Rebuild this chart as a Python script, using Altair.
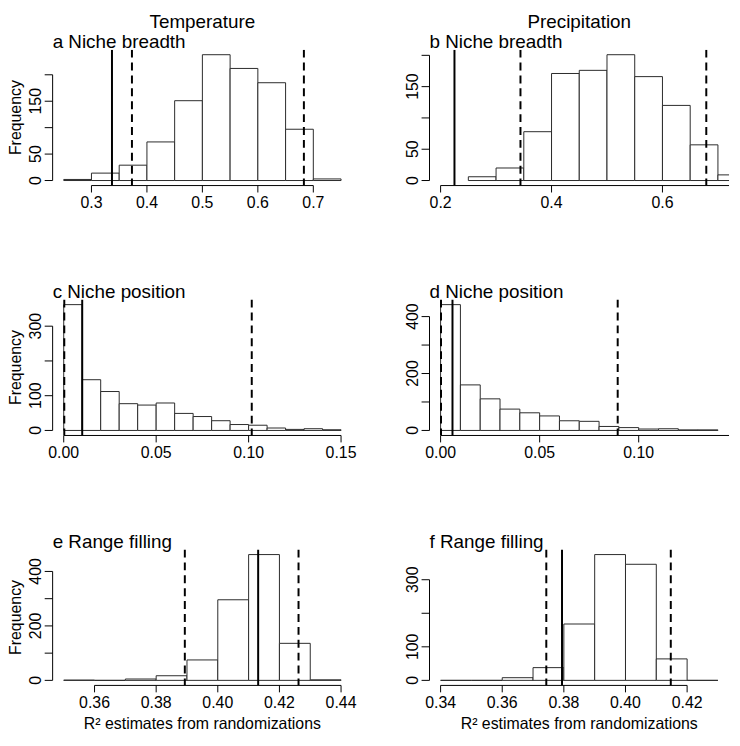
import altair as alt
import pandas as pd

FONT = "Liberation Sans"
W, H = 302, 137

# ---------------- data ----------------
col_titles = ["Temperature", "Precipitation"]
panel_labels = ["a Niche breadth", "b Niche breadth",
                "c Niche position", "d Niche position",
                "e Range filling", "f Range filling"]
x_title = "R\u00b2 estimates from randomizations"
y_title = "Frequency"

# histogram break points and counts
a_breaks = [0.25, 0.30, 0.35, 0.40, 0.45, 0.50, 0.55, 0.60, 0.65, 0.70, 0.75]
a_counts = [2, 14, 29, 73, 151, 238, 212, 185, 97, 3]
b_breaks = [0.25, 0.30, 0.35, 0.40, 0.45, 0.50, 0.55, 0.60, 0.65, 0.70, 0.75]
b_counts = [6, 20, 78, 171, 176, 201, 166, 120, 57, 9]
c_breaks = [0.00, 0.01, 0.02, 0.03, 0.04, 0.05, 0.06, 0.07, 0.08, 0.09, 0.10,
            0.11, 0.12, 0.13, 0.14, 0.15]
c_counts = [362, 146, 112, 77, 73, 79, 49, 40, 28, 17, 15, 7, 3, 5, 2]
d_breaks = [0.00, 0.01, 0.02, 0.03, 0.04, 0.05, 0.06, 0.07, 0.08, 0.09, 0.10,
            0.11, 0.12, 0.13, 0.14]
d_counts = [442, 160, 111, 75, 62, 51, 34, 32, 14, 10, 5, 6, 2, 2]
e_breaks = [0.35, 0.36, 0.37, 0.38, 0.39, 0.40, 0.41, 0.42, 0.43, 0.44]
e_counts = [1, 0, 5, 17, 75, 296, 462, 136, 2]
f_breaks = [0.34, 0.35, 0.36, 0.37, 0.38, 0.39, 0.40, 0.41, 0.42, 0.43]
f_counts = [0, 0, 8, 38, 168, 375, 346, 64, 0]

# observed value (solid line) and 95% interval (dashed lines)
obs_values = [0.337, 0.225, 0.010, 0.006, 0.4131, 0.3794]
ci_low = [0.373, 0.344, 0.0003, 0.0002, 0.3893, 0.3743]
ci_high = [0.683, 0.679, 0.1017, 0.0894, 0.4262, 0.4147]

# axis ticks and tick labels
x_ticks = [[0.3, 0.4, 0.5, 0.6, 0.7], [0.2, 0.4, 0.6],
           [0.0, 0.05, 0.10, 0.15], [0.0, 0.05, 0.10],
           [0.36, 0.38, 0.40, 0.42, 0.44], [0.34, 0.36, 0.38, 0.40, 0.42]]
x_tick_labels = [["0.3", "0.4", "0.5", "0.6", "0.7"], ["0.2", "0.4", "0.6"],
                 ["0.00", "0.05", "0.10", "0.15"], ["0.00", "0.05", "0.10"],
                 ["0.36", "0.38", "0.40", "0.42", "0.44"],
                 ["0.34", "0.36", "0.38", "0.40", "0.42"]]
x_domains = [[0.23, 0.77], [0.18, 0.72], [-0.006, 0.156], [-0.0056, 0.1456],
             [0.3464, 0.4436], [0.3364, 0.4336]]
x_axis_lines = [[0.3, 0.7], [0.2, 0.72], [0.0, 0.15], [0.0, 0.1456],
                [0.36, 0.44], [0.34, 0.42]]
y_ticks = [[0, 50, 100, 150, 200], [0, 50, 100, 150, 200],
           [0, 100, 200, 300], [0, 100, 200, 300, 400],
           [0, 100, 200, 300, 400], [0, 100, 200, 300]]
y_tick_labels = [["0", "50", "", "150", ""], ["0", "50", "", "150", ""],
                 ["0", "100", "", "300"], ["0", "", "200", "", "400"],
                 ["0", "", "200", "", "400"], ["0", "100", "", "300"]]

breaks_all = [a_breaks, b_breaks, c_breaks, d_breaks, e_breaks, f_breaks]
counts_all = [a_counts, b_counts, c_counts, d_counts, e_counts, f_counts]

TXT = dict(font=FONT, color="black")


def make_panel(i):
    brk = breaks_all[i]
    cnt = counts_all[i]
    df = pd.DataFrame({"x0": brk[:-1], "x1": brk[1:], "n": cnt})
    df["base"] = 0
    ymax = max(cnt)
    xs = alt.Scale(domain=x_domains[i], nice=False, zero=False)
    ys = alt.Scale(domain=[-0.04 * ymax, 1.04 * ymax], nice=False, zero=False)

    bars = alt.Chart(df).mark_rect(fill="white", stroke="#2b2b2b", strokeWidth=1,
                                   clip=True).encode(
        x=alt.X("x0:Q", scale=xs, axis=None),
        x2="x1:Q",
        y=alt.Y("n:Q", scale=ys, axis=None),
        y2="base:Q",
    )

    # x axis: line, ticks, labels
    xl = pd.DataFrame({"a": [x_axis_lines[i][0]], "b": [x_axis_lines[i][1]]})
    xline = alt.Chart(xl).mark_rule(color="black", strokeWidth=1).encode(
        x=alt.X("a:Q", scale=xs, axis=None), x2="b:Q", y=alt.value(H))
    xt = pd.DataFrame({"v": x_ticks[i], "lab": x_tick_labels[i]})
    xtick = alt.Chart(xt).mark_rule(color="black", strokeWidth=1).encode(
        x=alt.X("v:Q", scale=xs, axis=None), y=alt.value(H), y2=alt.value(H + 7))
    xlab = alt.Chart(xt).mark_text(align="center", baseline="top", fontSize=16,
                                   **TXT).encode(
        x=alt.X("v:Q", scale=xs, axis=None), y=alt.value(H + 10), text="lab:N")

    # y axis: line, ticks, labels
    yl = pd.DataFrame({"a": [y_ticks[i][0]], "b": [y_ticks[i][-1]]})
    yline = alt.Chart(yl).mark_rule(color="black", strokeWidth=1).encode(
        y=alt.Y("a:Q", scale=ys, axis=None), y2="b:Q", x=alt.value(0))
    yt = pd.DataFrame({"v": y_ticks[i], "lab": y_tick_labels[i]})
    ytick = alt.Chart(yt).mark_rule(color="black", strokeWidth=1).encode(
        y=alt.Y("v:Q", scale=ys, axis=None), x=alt.value(0), x2=alt.value(-8))
    ylab = alt.Chart(yt).mark_text(align="center", baseline="alphabetic", angle=270,
                                   fontSize=16, **TXT).encode(
        y=alt.Y("v:Q", scale=ys, axis=None), x=alt.value(-12), text="lab:N")

    obs = alt.Chart(pd.DataFrame({"v": [obs_values[i]]})).mark_rule(
        color="black", strokeWidth=2, clip=True).encode(
        x=alt.X("v:Q", scale=xs, axis=None), y=alt.value(0), y2=alt.value(H))
    ci = alt.Chart(pd.DataFrame({"v": [ci_low[i], ci_high[i]]})).mark_rule(
        color="black", strokeWidth=2, strokeDash=[8, 5], clip=True).encode(
        x=alt.X("v:Q", scale=xs, axis=None), y=alt.value(0), y2=alt.value(H))

    lab = alt.Chart(pd.DataFrame({"t": [panel_labels[i]]})).mark_text(
        align="left", baseline="alphabetic", fontSize=19, **TXT
    ).encode(x=alt.value(0), y=alt.value(-2), text="t:N")

    layers = [bars, xline, xtick, xlab, yline, ytick, ylab, obs, ci, lab]
    if i < 2:
        head = alt.Chart(pd.DataFrame({"t": [col_titles[i]]})).mark_text(
            align="center", baseline="alphabetic", fontSize=19, **TXT
        ).encode(x=alt.value(W / 2), y=alt.value(-22), text="t:N")
        layers.append(head)
    if i % 2 == 0:
        yt_title = alt.Chart(pd.DataFrame({"t": [y_title]})).mark_text(
            align="center", baseline="alphabetic", angle=270, fontSize=16, **TXT
        ).encode(x=alt.value(-32), y=alt.value(H / 2), text="t:N")
        layers.append(yt_title)
    if i >= 4:
        xt_title = alt.Chart(pd.DataFrame({"t": [x_title]})).mark_text(
            align="center", baseline="alphabetic", fontSize=16, **TXT
        ).encode(x=alt.value(W / 2), y=alt.value(H + 44), text="t:N")
        layers.append(xt_title)
    return alt.layer(*layers).properties(width=W, height=H)


chart = alt.concat(
    *[make_panel(i) for i in range(6)],
    columns=2,
    spacing=alt.RowColnumber(row=115, column=78),
    bounds="flush",
).configure_view(stroke=None).properties(
    padding={"left": 0, "top": 2, "right": 2, "bottom": 2},
    background="white",
)

chart.save("out.html", embed_options={"renderer": "svg", "actions": False})
